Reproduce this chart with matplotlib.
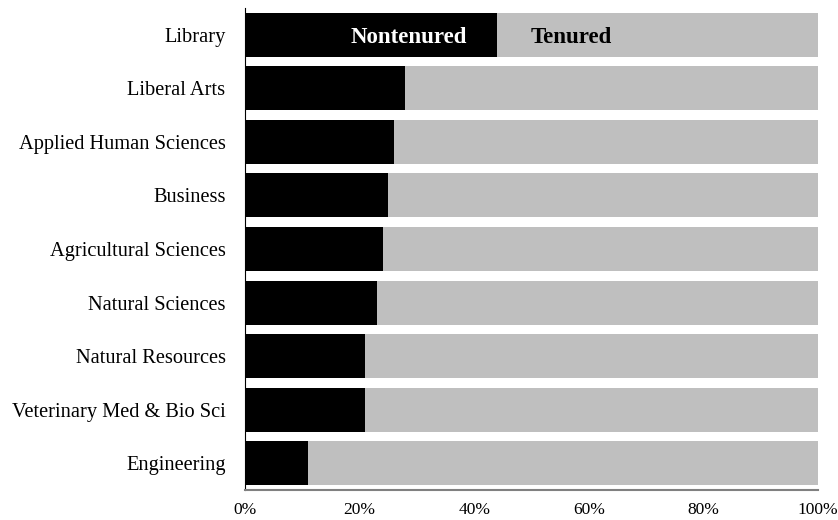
import matplotlib.pyplot as plt
import matplotlib.ticker as mtick

plt.rcParams['font.family'] = ['Liberation Serif', 'DejaVu Serif']

departments = ['Library', 'Liberal Arts', 'Applied Human Sciences', 'Business',
               'Agricultural Sciences', 'Natural Sciences', 'Natural Resources',
               'Veterinary Med & Bio Sci', 'Engineering']
nontenured = [44, 28, 26, 25, 24, 23, 21, 21, 11]
tenured = [100 - v for v in nontenured]

fig, ax = plt.subplots(figsize=(8.38, 5.2), dpi=100)
fig.subplots_adjust(left=0.2924, right=0.9761, top=0.9846, bottom=0.0577)

pos = list(range(len(departments)))
ax.barh(pos, nontenured, height=0.82, color='black')
ax.barh(pos, tenured, left=nontenured, height=0.82, color='#bfbfbf')

ax.set_ylim(len(departments) - 0.5, -0.5)
ax.set_xlim(0, 100)
ax.set_yticks(pos)
ax.set_yticklabels(departments, fontsize=14.7)
ax.xaxis.set_major_locator(mtick.MultipleLocator(20))
ax.xaxis.set_major_formatter(mtick.PercentFormatter(decimals=0))
ax.tick_params(axis='x', length=0, labelsize=12.5, pad=9)
ax.tick_params(axis='y', length=0, pad=14)

ax.spines['top'].set_visible(False)
ax.spines['right'].set_visible(False)
ax.spines['left'].set_color('black')
ax.spines['bottom'].set_color('#808080')
ax.spines['bottom'].set_linewidth(1.5)

ax.text(28.6, 0.05, 'Nontenured', color='white', fontweight='bold', fontsize=16.5,
        ha='center', va='center')
ax.text(56.9, 0.05, 'Tenured', color='black', fontweight='bold', fontsize=16.5,
        ha='center', va='center')

plt.savefig('out.png', dpi=100)
